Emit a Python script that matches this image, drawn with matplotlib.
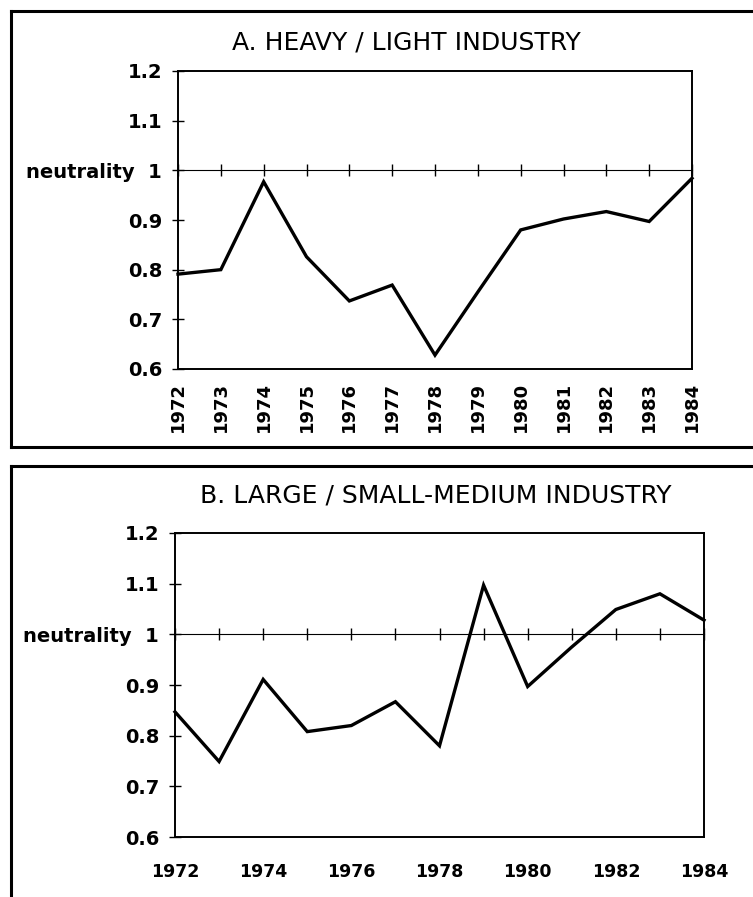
import matplotlib
matplotlib.use("Agg")
import matplotlib.pyplot as plt
from matplotlib.lines import Line2D

plt.rcParams["font.family"] = "DejaVu Sans"

years = [1972, 1973, 1974, 1975, 1976, 1977, 1978, 1979, 1980, 1981, 1982, 1983, 1984]
heavy_light = [0.791, 0.80, 0.977, 0.826, 0.737, 0.769, 0.628, 0.755, 0.88, 0.902, 0.917, 0.897, 0.984]
large_small = [0.847, 0.749, 0.911, 0.808, 0.82, 0.867, 0.78, 1.097, 0.897, 0.975, 1.049, 1.08, 1.028]
yticks = [0.6, 0.7, 0.8, 0.9, 1.0, 1.1, 1.2]
ytick_labels = ["0.6", "0.7", "0.8", "0.9", "neutrality  1", "1.1", "1.2"]
title_a = "A. HEAVY / LIGHT INDUSTRY"
title_b = "B. LARGE / SMALL-MEDIUM INDUSTRY"

W, H = 753, 897
fig = plt.figure(figsize=(W / 100, H / 100), dpi=100)


def fx(px):
    return px / W


def fy(py):
    return 1 - py / H


def panel(rect, values, xlabels, rotate):
    ax = fig.add_axes(rect)
    ax.plot(years, values, color="black", lw=2.4, solid_joinstyle="miter", clip_on=False, zorder=3)
    ax.set_xlim(years[0], years[-1])
    ax.set_ylim(0.6, 1.2)
    for s in ax.spines.values():
        s.set_linewidth(1.4)
    ax.set_yticks(yticks)
    ax.set_yticklabels(ytick_labels, fontsize=14, fontweight="bold")
    ax.tick_params(axis="y", direction="inout", length=9, width=1, pad=7)
    ax.set_xticks(xlabels)
    ax.set_xticklabels([str(y) for y in xlabels], fontsize=13 if rotate else 12.5,
                       rotation=90 if rotate else 0, fontweight="bold")
    ax.tick_params(axis="x", length=0, pad=9 if rotate else 19)
    # neutrality line with year ticks
    sec = ax.secondary_xaxis((1.0 - 0.6) / 0.6)
    sec.spines["bottom"].set_linewidth(1.0)
    sec.set_xticks(years)
    sec.set_xticklabels([])
    sec.tick_params(direction="inout", length=9, width=1)
    return ax


panel([fx(178), fy(369), fx(692) - fx(178), fy(71) - fy(369)], heavy_light, years, True)
panel([fx(175), fy(837), fx(704) - fx(175), fy(533) - fy(837)], large_small, years[::2], False)

fig.text(fx(406), fy(42), title_a, ha="center", va="center", fontsize=18)
fig.text(fx(436), fy(495), title_b, ha="center", va="center", fontsize=18)

# outer frames
lw = 2.2
for xs, ys in [
    ([11, 11, W], [11, 11, 11]),
    ([11, 11], [11, 447]),
    ([11, W], [447, 447]),
    ([11, W], [466, 466]),
    ([11, 11], [466, H]),
]:
    fig.add_artist(Line2D([fx(x) for x in xs], [fy(y) for y in ys], color="black", lw=lw,
                          transform=fig.transFigure))

fig.savefig("out.png", dpi=100)
